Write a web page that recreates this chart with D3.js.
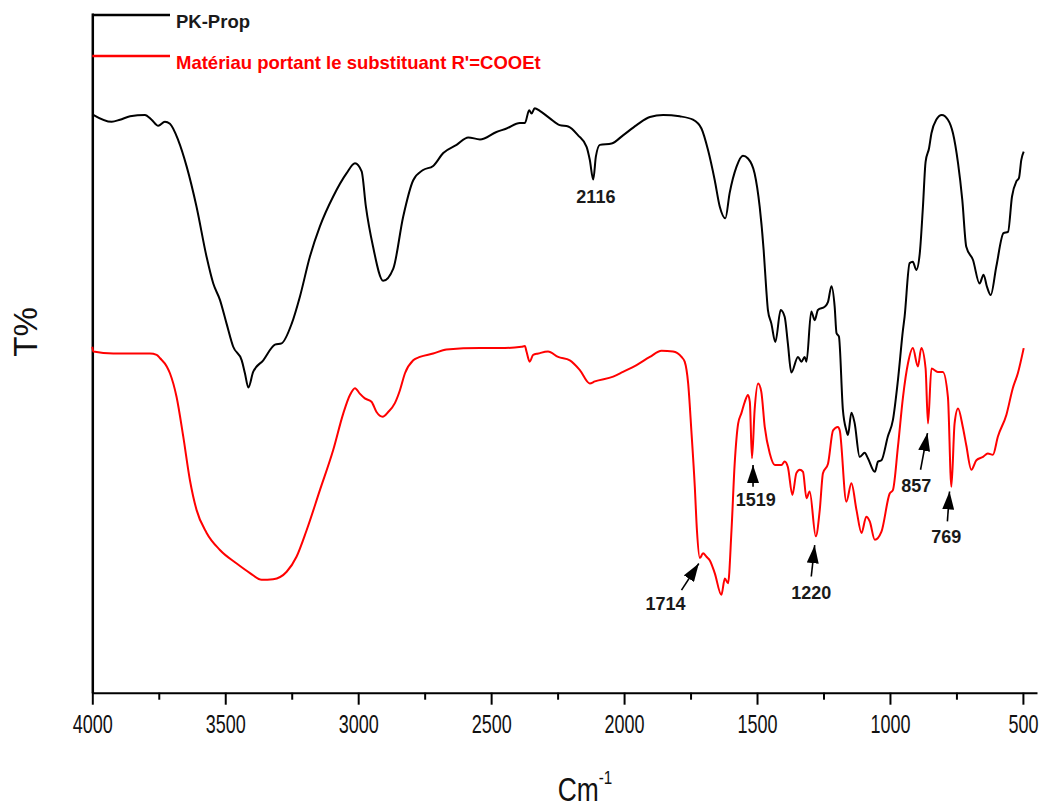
<!DOCTYPE html>
<html><head><meta charset="utf-8">
<script src="https://cdn.jsdelivr.net/npm/d3@7"></script>
<style>
html,body{margin:0;padding:0;background:#fff;}
svg{display:block;font-family:"Liberation Sans",Arial,sans-serif;}
</style></head>
<body>
<svg id="chart" width="1050" height="809"></svg>
<script>
// ---- data (wavenumber cm-1, transmittance in arbitrary %) ----
const seriesNames = ["PK-Prop", "Matériau portant le substituant R'=COOEt"];
const pkWavenumber = [4000,3927,3896,3858,3802,3777,3752,3727,3708,3677,3645,3608,3570,3545,3520,3495,3470,3438,3426,3413,3395,3357,3313,3288,3250,3219,3182,3144,3094,3044,3012,2987,2971,2944,2906,2868,2831,2793,2756,2718,2680,2630,2586,2542,2480,2442,2392,2373,2357,2348,2336,2317,2279,2242,2210,2173,2141,2129,2116,2106,2091,2047,2004,1953,1903,1853,1791,1741,1709,1684,1659,1640,1619,1603,1577,1553,1534,1509,1490,1475,1465,1459,1446,1431,1411,1396,1384,1371,1346,1333,1321,1314,1296,1283,1271,1245,1233,1220,1208,1201,1192,1177,1164,1158,1145,1133,1114,1095,1083,1057,1045,1032,1008,989,970,951,945,926,914,901,888,876,866,853,844,826,805,782,763,744,728,713,688,663,648,635,621,600,573,556,541,525,515,506,497];
const pkT = [85.1,84.0,84.3,84.8,85.0,84.3,83.4,84.0,83.7,81.3,77.4,71.5,64.1,60.2,57.8,54.3,50.9,48.9,47.0,44.9,47.2,48.9,51.2,51.4,54.3,58.3,64.1,68.6,73.0,76.4,77.9,76.7,71.5,65.6,60.6,62.4,70.0,75.4,76.9,77.5,79.4,80.6,81.7,81.4,82.5,83.0,83.8,83.8,85.7,85.2,86.0,85.6,84.5,83.5,83.3,82.0,80.3,78.4,75.5,78.9,80.6,80.8,82.0,83.5,84.7,85.0,84.8,84.3,83.0,79.8,75.4,71.5,69.8,73.5,77.4,79.0,78.6,76.4,71.5,65.1,59.2,56.3,54.3,51.6,56.3,55.3,51.4,47.1,49.4,48.7,49.4,48.7,56.1,54.8,56.3,56.8,57.5,59.8,56.8,52.9,52.4,41.6,38.6,37.9,41.2,39.7,34.7,35.3,34.5,32.5,34.0,34.2,37.7,40.1,46.0,53.4,55.3,63.2,63.4,62.2,64.6,71.5,78.1,80.1,82.3,84.3,85.0,84.3,82.3,77.9,72.5,65.6,63.7,60.2,61.5,59.7,58.5,62.7,67.6,67.8,73.0,75.2,75.7,78.4,79.6];
const estWavenumber = [4000,3996,3921,3783,3758,3745,3720,3708,3683,3658,3633,3608,3570,3520,3457,3407,3363,3320,3269,3232,3194,3144,3094,3056,3031,3012,2994,2975,2950,2931,2908,2887,2862,2843,2824,2793,2768,2718,2668,2542,2467,2386,2373,2367,2355,2342,2323,2286,2248,2204,2167,2129,2110,2041,2004,1953,1903,1859,1816,1784,1772,1759,1747,1734,1726,1715,1703,1690,1678,1659,1634,1621,1609,1596,1584,1571,1559,1546,1534,1527,1519,1509,1496,1484,1471,1452,1433,1408,1396,1384,1367,1352,1339,1327,1314,1302,1279,1264,1252,1233,1214,1196,1189,1164,1145,1126,1107,1089,1076,1057,1032,1001,989,970,951,932,914,895,882,866,857,844,820,801,782,769,757,744,726,713,694,675,650,632,613,594,562,538,519,497];
const estT = [50.9,50.2,49.9,49.9,49.7,49.2,48.0,47.0,43.5,37.7,31.3,26.9,23.5,21.0,19.0,17.6,16.6,16.7,17.8,20.0,23.9,29.8,35.7,41.1,43.8,44.8,44.0,43.3,42.8,41.3,40.6,41.3,42.6,44.5,47.0,48.9,49.4,49.9,50.5,50.7,50.7,50.9,51.0,50.2,48.7,49.7,49.9,50.2,49.4,48.9,47.5,45.5,45.8,46.5,47.2,48.2,49.4,50.3,50.2,49.4,48.7,45.5,38.6,30.3,23.9,19.8,20.5,20.0,19.5,17.6,14.4,16.8,16.1,23.9,33.7,39.6,41.1,42.8,43.8,42.8,34.5,41.6,45.5,44.3,39.1,35.2,33.5,33.5,34.0,33.2,29.1,32.3,32.8,32.5,28.6,29.6,23.0,26.9,32.3,33.7,38.6,39.1,38.6,28.1,30.8,26.9,23.5,25.9,25.2,22.5,23.7,29.3,29.8,36.2,43.5,48.5,50.7,48.0,50.7,47.7,39.6,47.7,47.2,47.2,43.5,30.3,39.6,41.8,39.1,36.4,32.8,34.2,34.7,35.2,35.0,37.7,40.9,44.8,47.0,50.7];
const majorTicks = [4000,3500,3000,2500,2000,1500,1000,500];
const minorTicks = [3750,3250,2750,2250,1750,1250,750];
// annotations: label, label position, arrow tip, arrow tail (wavenumber / T)
const annLabels = ["2116","1714","1519","1220","857","769"];
const annLabelWn = [2106,1844,1505,1296,901,788];
const annLabelT = [72.9,13.0,28.4,14.6,30.4,22.9];
const annTipWn = [null,1719,1515,1283,859,776];
const annTipT = [null,19.0,33.5,21.7,38.2,29.6];
const annTailWn = [null,1784,1515,1296,885,784];
const annTailT = [null,15.1,30.3,17.1,32.8,25.2];

const svg = d3.select("#chart");
const x = d3.scaleLinear().domain([4000, 447]).range([92.3, 1037]);
const y = d3.scaleLinear().domain([0, 100]).range([692.7, 13]);

// axes
const xAxis = svg.append("g").attr("transform", `translate(0,${y(0)})`)
  .call(d3.axisBottom(x).tickValues(majorTicks).tickSize(12).tickSizeOuter(0).tickFormat(d3.format("d")));
xAxis.select(".domain").attr("stroke", "#000").attr("stroke-width", 2);
xAxis.selectAll(".tick line").attr("stroke", "#000").attr("stroke-width", 2);
xAxis.selectAll(".tick text").attr("font-size", 25).attr("fill", "#111")
  .attr("font-family", "'Liberation Sans',Arial,sans-serif")
  .attr("y", 0).attr("dy", null).attr("transform", "translate(0,40) scale(0.72,1)");
const xMinor = svg.append("g").attr("transform", `translate(0,${y(0)})`)
  .call(d3.axisBottom(x).tickValues(minorTicks).tickSize(7).tickSizeOuter(0).tickFormat(""));
xMinor.select(".domain").remove();
xMinor.selectAll(".tick line").attr("stroke", "#000").attr("stroke-width", 2);

const yAxis = svg.append("g").attr("transform", `translate(${x(4000)},0)`)
  .call(d3.axisLeft(y).ticks(0).tickSizeOuter(0));
yAxis.select(".domain").attr("stroke", "#000").attr("stroke-width", 2.5);

// axis titles
const xt = svg.append("text").attr("transform", "translate(585,801) scale(0.8,1)")
  .attr("text-anchor", "middle").attr("font-size", 33).attr("fill", "#111");
xt.append("tspan").text("Cm");
xt.append("tspan").attr("font-size", 19).attr("dy", -17).text("-1");
svg.append("text").attr("transform", "translate(37,332) rotate(-90)")
  .attr("text-anchor", "middle").attr("font-size", 33).attr("fill", "#111").text("T%");

// curves
const line = d3.line().x(d => x(d[0])).y(d => y(d[1])).curve(d3.curveMonotoneX);
const pkData = pkWavenumber.map((w, i) => [w, pkT[i]]);
const estData = estWavenumber.map((w, i) => [w, estT[i]]);
svg.append("path").datum(estData).attr("d", line).attr("fill", "none")
  .attr("stroke", "#ff0000").attr("stroke-width", 2).attr("stroke-linejoin", "round");
svg.append("path").datum(pkData).attr("d", line).attr("fill", "none")
  .attr("stroke", "#000").attr("stroke-width", 2).attr("stroke-linejoin", "round");

// legend
const legendColors = ["#000", "#ff0000"];
const legendY = [15, 56];
seriesNames.forEach((n, i) => {
  svg.append("line").attr("x1", 92.3).attr("x2", 170).attr("y1", legendY[i]).attr("y2", legendY[i])
    .attr("stroke", legendColors[i]).attr("stroke-width", 2.5);
  svg.append("text").attr("x", 176).attr("y", legendY[i] + 13).attr("font-size", 18.5)
    .attr("font-weight", "bold").attr("fill", legendColors[i] === "#000" ? "#1a1a1a" : "#ff0000").text(n);
});

// annotations
const defs = svg.append("defs");
defs.append("marker").attr("id", "ah").attr("viewBox", "0 0 18 12").attr("refX", 18).attr("refY", 6)
  .attr("markerWidth", 18).attr("markerHeight", 12).attr("markerUnits", "userSpaceOnUse")
  .attr("orient", "auto").append("path").attr("d", "M0,0 L18,6 L0,12 Z").attr("fill", "#000");
annLabels.forEach((lab, i) => {
  if (annTipWn[i] !== null) {
    svg.append("line").attr("x1", x(annTailWn[i])).attr("y1", y(annTailT[i]))
      .attr("x2", x(annTipWn[i])).attr("y2", y(annTipT[i]))
      .attr("stroke", "#000").attr("stroke-width", 1.6).attr("marker-end", "url(#ah)");
  }
  svg.append("text").attr("x", x(annLabelWn[i])).attr("y", y(annLabelT[i]))
    .attr("text-anchor", "middle").attr("dominant-baseline", "central")
    .attr("font-size", 18).attr("font-weight", "bold").attr("fill", "#1a1a1a").text(lab);
});
</script>
</body></html>
